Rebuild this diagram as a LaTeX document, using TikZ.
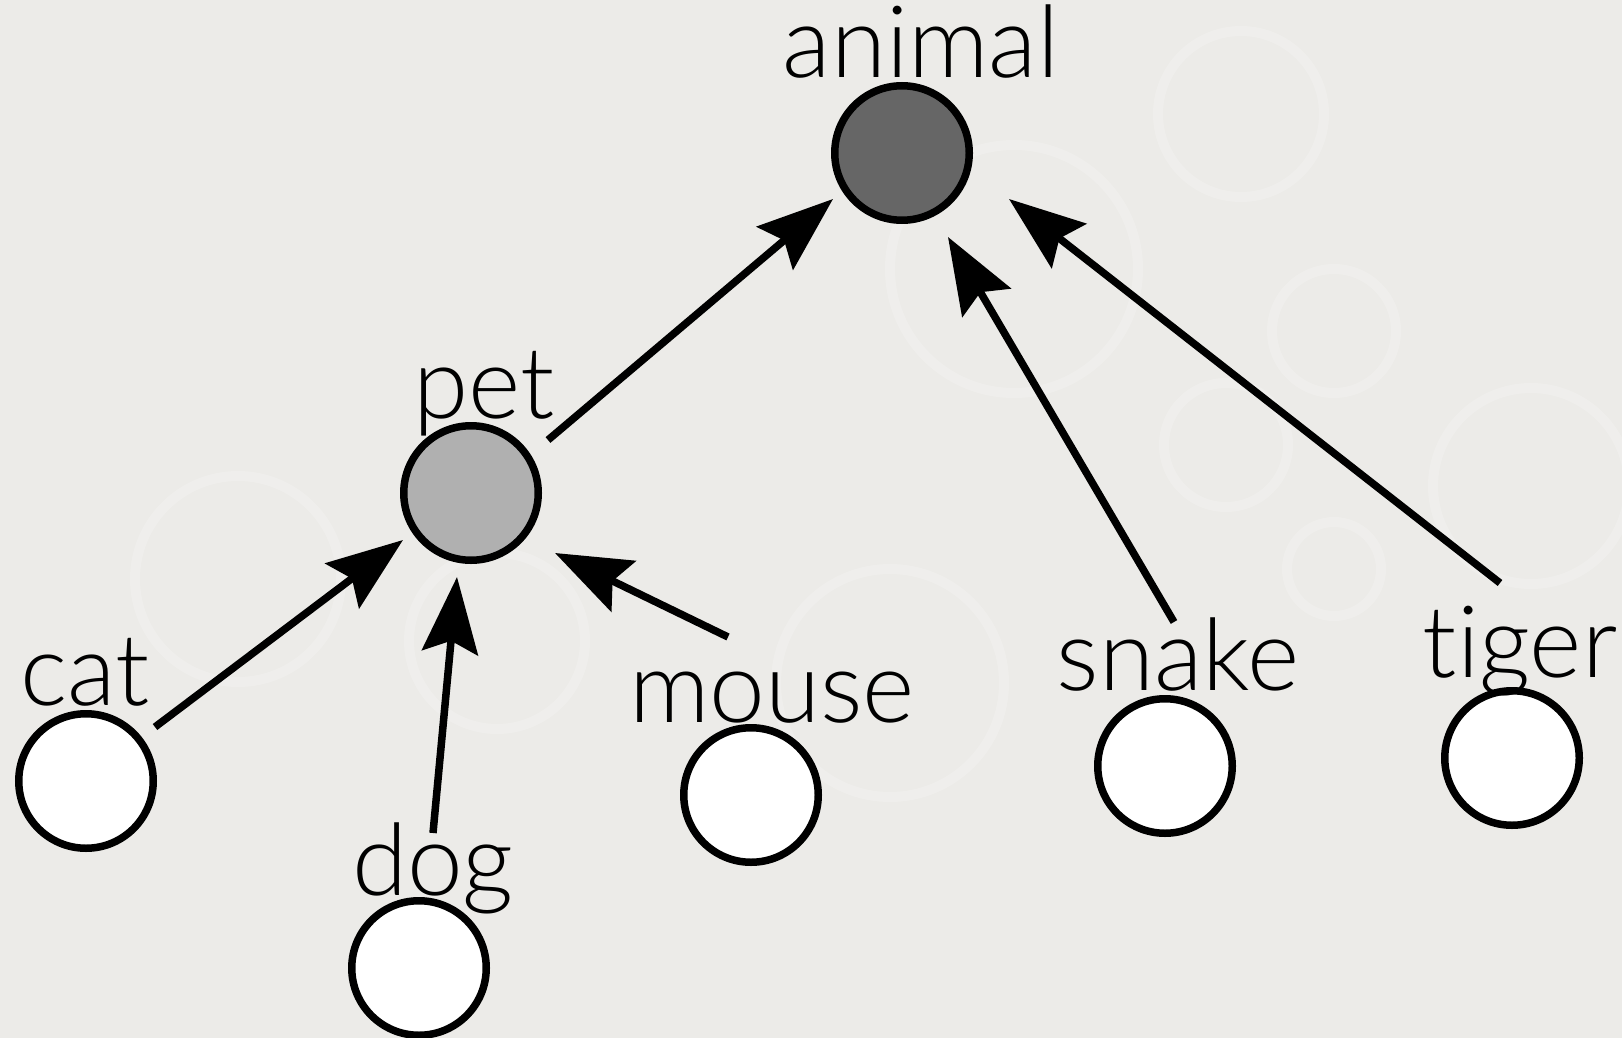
\documentclass[tikz,border=0pt]{standalone}
\usepackage{fontspec}
\setmainfont{Lato Light}[Ligatures={NoCommon,NoRare,NoDiscretionary}]
\usetikzlibrary{arrows.meta,calc}
\definecolor{bgc}{HTML}{ECEBE8}
\definecolor{darkfill}{HTML}{666666}
\definecolor{lightfill}{HTML}{B0B0B0}
\tikzset{
  vtx/.style={circle, draw=black, line width=7.5pt, minimum size=134.5pt, inner sep=0pt},
  lbl/.style={anchor=base, inner sep=0pt, font=\fontsize{100}{100}\selectfont},
  arr/.style={line width=7.5pt, -{Stealth[length=76pt, width=56pt, inset=12pt]}},
  bubble/.style={draw=white, line width=10pt, opacity=0.18}
}
\begin{document}
\begin{tikzpicture}[x=1pt, y=-1pt]
\fill[bgc] (0,0) rectangle (1622,1038);
\useasboundingbox (0,0) rectangle (1622,1038);
% faint background bubbles
\draw[bubble] (238,579) circle[radius=103];
\draw[bubble] (497,641) circle[radius=88];
\draw[bubble] (890,683) circle[radius=114];
\draw[bubble] (1014,269) circle[radius=124];
\draw[bubble] (1226,445) circle[radius=62];
\draw[bubble] (1334,569) circle[radius=47];
\draw[bubble] (1531,486) circle[radius=98];
\draw[bubble] (1241,114) circle[radius=83];
\draw[bubble] (1334,331) circle[radius=62];
% vertices
\node[vtx, fill=darkfill] (animal) at (902,153) {};
\node[vtx, fill=lightfill] (pet) at (471,493) {};
\node[vtx, fill=white] (cat) at (86,781) {};
\node[vtx, fill=white] (dog) at (419,968) {};
\node[vtx, fill=white] (mouse) at (751,795) {};
\node[vtx, fill=white] (snake) at (1165,766) {};
\node[vtx, fill=white] (tiger) at (1512,758) {};
% labels
\node[lbl] (animal-l) at (921,78) {animal};
\node[lbl] (pet-l) at (484,418) {pet};
\node[lbl] (cat-l) at (85,705) {cat};
\node[lbl] (dog-l) at (433,895) {dog};
\node[lbl] (mouse-l) at (772,722) {mouse};
\node[lbl] (snake-l) at (1178,690) {snake};
\node[lbl] (tiger-l) at (1520,677) {tiger};
% connectors
\draw[arr] ($(pet)+(77,-53)$) -- ($(animal)+(-69,46)$);
\draw[arr] ($(snake)+(9,-144)$) -- ($(animal)+(46,84)$);
\draw[arr] ($(tiger)+(-12,-175)$) -- ($(animal)+(107,46)$);
\draw[arr] ($(cat)+(69,-54)$) -- ($(pet)+(-68,47)$);
\draw[arr] ($(dog)+(14,-135)$) -- ($(pet)+(-14,84)$);
\draw[arr] ($(mouse)+(-23,-158)$) -- ($(pet)+(84,60)$);
\end{tikzpicture}
\end{document}
